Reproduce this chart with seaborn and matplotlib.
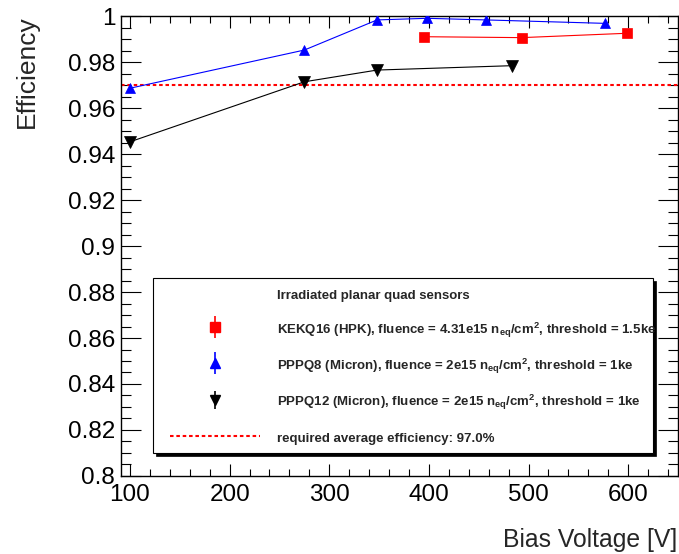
import matplotlib
matplotlib.use("Agg")
import matplotlib.pyplot as plt
from matplotlib.lines import Line2D
from matplotlib.patches import Rectangle
from matplotlib.legend_handler import HandlerTuple
from matplotlib.ticker import MultipleLocator, FuncFormatter
import seaborn as sns

sns.set_style("ticks")
plt.rcParams["font.family"] = ["Liberation Sans", "DejaVu Sans"]
plt.rcParams["mathtext.fontset"] = "custom"
plt.rcParams["mathtext.rm"] = "Liberation Sans"
plt.rcParams["mathtext.bf"] = "Liberation Sans:bold"
plt.rcParams["mathtext.it"] = "Liberation Sans:italic"

# data
kek_v = [395, 493, 599]
kek_eff = [0.9910, 0.9906, 0.9925]
q8_v = [100, 275, 348, 398, 457, 577]
q8_eff = [0.9686, 0.9852, 0.9983, 0.9990, 0.9983, 0.9968]
q12_v = [100, 275, 348, 483]
q12_eff = [0.9453, 0.9714, 0.9765, 0.9784]
required = 0.97

legend_title = "Irradiated planar quad sensors"
labels = [
    legend_title,
    r"KEKQ16 (HPK), fluence = 4.31e15 n$_{\mathbf{eq}}$/cm$^{\mathbf{2}}$, threshold = 1.5ke",
    r"PPPQ8 (Micron), fluence = 2e15 n$_{\mathbf{eq}}$/cm$^{\mathbf{2}}$, threshold = 1ke",
    r"PPPQ12 (Micron), fluence = 2e15 n$_{\mathbf{eq}}$/cm$^{\mathbf{2}}$, threshold = 1ke",
    "required average efficiency: 97.0%",
]

fig = plt.figure(figsize=(6.79, 5.54), dpi=100)
ax = fig.add_axes([0.1778, 0.1408, 0.9985 - 0.1778, 0.9711 - 0.1408])

dots = (0, (1.7, 1.35))
ax.axhline(required, color="red", lw=1.5, ls=dots, zorder=2)

sns.lineplot(x=kek_v, y=kek_eff, color="red", marker="s", markersize=7.3,
             markeredgecolor="red", markeredgewidth=0.5, linewidth=0.8, ax=ax, zorder=3)
sns.lineplot(x=q8_v, y=q8_eff, color="blue", marker="^", markersize=7.5,
             markeredgecolor="blue", markeredgewidth=0.5, linewidth=0.8, ax=ax, zorder=3)
sns.lineplot(x=q12_v, y=q12_eff, color="black", marker="v", markersize=8,
             markeredgecolor="black", markeredgewidth=0.5, linewidth=0.8, ax=ax, zorder=3)

ax.set_xlim(90.7, 650)
ax.set_ylim(0.8, 1.0)
ax.xaxis.set_major_locator(MultipleLocator(100))
ax.xaxis.set_minor_locator(MultipleLocator(20))
ax.yaxis.set_major_locator(MultipleLocator(0.02))
ax.yaxis.set_minor_locator(MultipleLocator(0.005))
ax.yaxis.set_major_formatter(FuncFormatter(lambda v, p: f"{round(v, 3):g}"))
ax.set_xlabel("")
ax.set_ylabel("")

for s in ax.spines.values():
    s.set_color("black")
    s.set_linewidth(1.0)
ax.tick_params(axis="both", which="both", direction="in", top=True, right=True,
               width=0.8, color="black", labelcolor="black")
ax.tick_params(axis="x", which="major", length=8.6, pad=6, labelsize=17.5)
ax.tick_params(axis="x", which="minor", length=4.7)
ax.tick_params(axis="y", which="major", length=14.4, pad=4, labelsize=17.5)
ax.tick_params(axis="y", which="minor", length=7.2)

fig.text(0.0398, 0.973, "Efficiency", rotation=90, ha="center", va="top", fontsize=19)
fig.text(677.3 / 679, 0.0132, "Bias Voltage [V]", ha="right", va="baseline", fontsize=17.8)

# legend box with ROOT style shadow
x0, y0, x1, y1 = 0.0574, 0.0493, 0.9557, 0.4298
ax.add_patch(Rectangle((x0 + 0.0055, y0 - 0.0065), x1 - x0, y1 - y0, transform=ax.transAxes,
                       facecolor="black", edgecolor="black", lw=0.5, zorder=4))
ax.add_patch(Rectangle((x0, y0), x1 - x0, y1 - y0, transform=ax.transAxes,
                       facecolor="white", edgecolor="black", lw=0.8, zorder=5))

header = Line2D([], [], ls="none")
kek_h = (Line2D([], [], ls="none", marker="|", ms=16, mew=1.2, color="red"),
         Line2D([], [], ls="none", marker="s", ms=7, color="red"))
q8_h = (Line2D([], [], ls="none", marker="|", ms=16, mew=1.2, color="blue"),
        Line2D([], [], ls="none", marker="^", ms=7.5, color="blue"))
q12_h = (Line2D([], [], ls="none", marker="|", ms=13, mew=1.2, color="black"),
         Line2D([], [], ls="none", marker="v", ms=7.5, color="black"))
req_h = Line2D([], [], color="red", lw=1.5, ls=dots)

leg = ax.legend([header, kek_h, q8_h, q12_h, req_h], labels,
                handler_map={tuple: HandlerTuple(ndivide=1, pad=0)},
                loc="upper left", bbox_to_anchor=(0.0885, 0.412), frameon=False,
                borderpad=0, borderaxespad=0, handlelength=6.8, handleheight=1.6,
                handletextpad=1.32, labelspacing=1.29,
                prop={"weight": "bold", "size": 9.5})
leg.set_zorder(6)

fig.savefig("out.png", dpi=100)
